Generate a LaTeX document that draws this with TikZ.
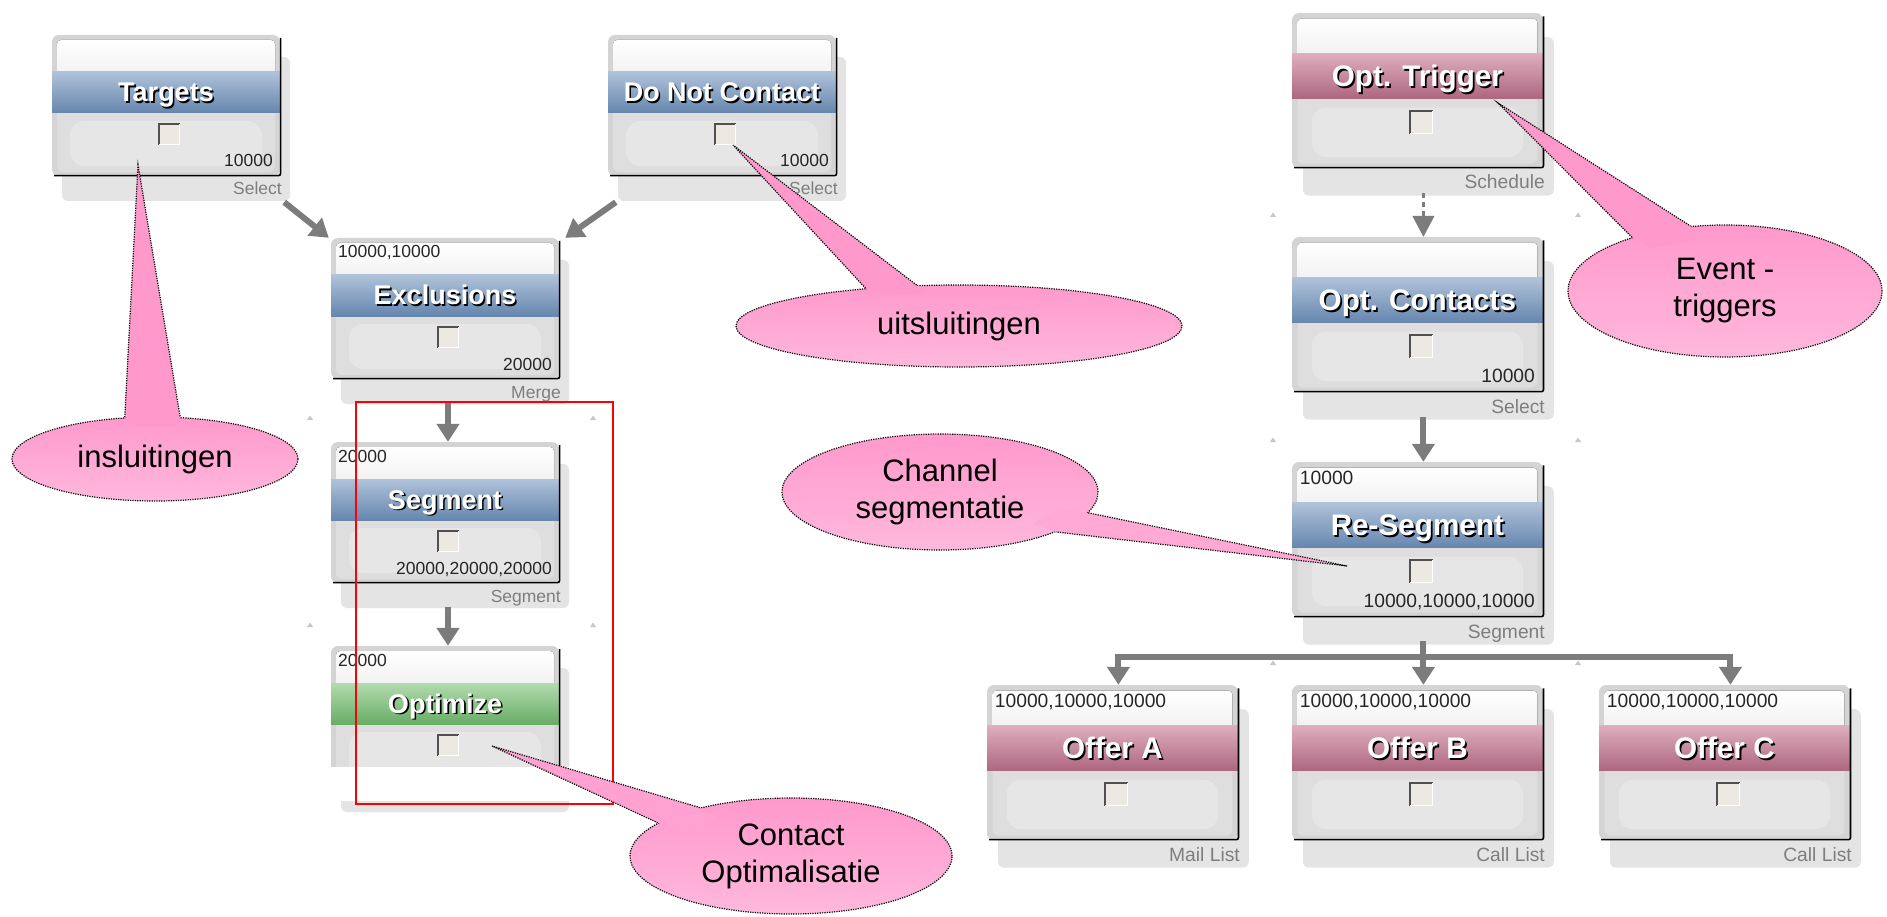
\documentclass[tikz,border=0pt]{standalone}
\usepackage{fontspec}
\setmainfont{Liberation Sans}
\usetikzlibrary{arrows.meta,shapes.geometric,calc}

\definecolor{bandblueT}{HTML}{AFC2DA}
\definecolor{bandblueB}{HTML}{6686AE}
\definecolor{bandpinkT}{HTML}{DDAEBD}
\definecolor{bandpinkB}{HTML}{AE6680}
\definecolor{bandgreenT}{HTML}{B2DBAE}
\definecolor{bandgreenB}{HTML}{68AD66}
\definecolor{frame}{HTML}{D4D4D4}
\definecolor{boxlow}{HTML}{DEDEDE}
\definecolor{boxlowin}{HTML}{E6E6E6}
\definecolor{shadowgrey}{HTML}{E4E4E4}
\definecolor{flowgrey}{HTML}{7C7C7C}
\definecolor{checkfill}{HTML}{ECE9E2}
\definecolor{checkdark}{HTML}{505050}
\definecolor{tagtext}{HTML}{7E7E7E}
\definecolor{pinkA}{HTML}{FF99CC}
\definecolor{pinkB}{HTML}{FFB8DC}

\tikzset{
  x=1pt, y=-1pt,
  boxbody/.style={rectangle, rounded corners=7pt, fill=frame, minimum width=228pt,
    minimum height=141pt, inner sep=0pt},
  titletext/.style={font=\fontsize{27}{30}\selectfont\bfseries, inner sep=0pt, anchor=base},
  counttext/.style={font=\fontsize{17.5}{20}\selectfont, text=black!85, inner sep=0pt},
  typetext/.style={font=\fontsize{17.5}{20}\selectfont, text=tagtext, inner sep=0pt},
  flowline/.style={draw=flowgrey, line width=6pt},
  flowarrow/.style={flowline, -{Triangle[width=22pt,length=18pt]}},
  callout/.style={ellipse, draw=black, line width=1.2pt, dash pattern=on 1.2pt off 1.2pt,
    top color=pinkA, bottom color=pinkB, inner sep=0pt, align=center,
    font=\fontsize{31}{37}\selectfont},
  calloutline/.style={draw=black, line width=1.2pt, dash pattern=on 1.2pt off 1.2pt},
  focusframe/.style={rectangle, draw=red, line width=1.4pt, inner sep=0pt},
}

% process block: #1 name, #2 left, #3 top, #4 scale, #5 band colour, #6 title,
% #7 incoming counts, #8 outgoing counts, #9 process type
\newcommand\flowbox[9]{%
  \begin{scope}[shift={(#2,#3)}, scale=#4, transform shape]
    \fill[shadowgrey, rounded corners=6] (10,22) rectangle (238,166);
    \node[boxbody] (#1) at (114,70.5) {};
    \fill[top color=white, bottom color=black!6, rounded corners=4] (5,5) rectangle (223,44);
    \fill[boxlow, rounded corners=6] (5,70) rectangle (223,137);
    \fill[boxlowin, rounded corners=14] (18,86) rectangle (210,131);
    \shade[top color=band#5T, bottom color=band#5B] (0,37) rectangle (228,78);
    \draw[line width=1.6pt, rounded corners=2] (228.6,3) -- (228.6,140.6) -- (2,140.6);
    \node[titletext, text=black] at (115.6,68.6) {#6};
    \node[titletext, text=white] at (114,67) {#6};
    \fill[checkfill] (106,88) rectangle (128,110);
    \draw[checkdark, line width=2.2pt] (107.1,110) -- (107.1,89.1) -- (128,89.1);
    \draw[white, line width=1pt] (107,109.5) -- (127.5,109.5) -- (127.5,89);
    \node[counttext, anchor=base west] at (7,20) {#7};
    \node[counttext, anchor=base east] at (221,132) {#8};
    \node[typetext, anchor=base east] at (230,160) {#9};
  \end{scope}}

% speech-bubble tail: #1 bubble, #2 tip, #3 #4 border angles, #5 fill colour
\newcommand\calltail[5]{%
  \fill[#5] (#2) -- (#1.#3) -- ($(#1.center)!0.8!(#1.#3)$) --
    ($(#1.center)!0.8!(#1.#4)$) -- (#1.#4) -- cycle;
  \draw[calloutline] (#1.#3) -- (#2) -- (#1.#4);}

\begin{document}
\begin{tikzpicture}
  \fill[white] (0,0) rectangle (1887,917);
  \useasboundingbox (0,0) rectangle (1887,917);

  % grid anchor marks
  \foreach \mx/\my in {310/418, 593/418, 310/625, 593/625,
                       1273/215, 1578/215, 1273/440, 1578/440, 1273/663, 1578/663}
    \fill[black!22] (\mx-3,\my+2) -- (\mx+3,\my+2) -- (\mx,\my-2.5) -- cycle;

  % left flow
  \flowbox{targets}{52}{35}{1}{blue}{Targets}{}{10000}{Select}
  \flowbox{dnc}{608}{35}{1}{blue}{Do Not Contact}{}{10000}{Select}
  \flowbox{exclusions}{331}{238}{1}{blue}{Exclusions}{10000,10000}{20000}{Merge}
  \flowbox{segment}{331}{442}{1}{blue}{Segment}{20000}{20000,20000,20000}{Segment}
  \flowbox{optimize}{331}{646}{1}{green}{Optimize}{20000}{}{}
  \fill[white] (322,767) rectangle (580,801);

  \draw[flowarrow] ([xshift=4pt,yshift=-26pt]targets.south east) -- ([xshift=-2pt]exclusions.north west);
  \draw[flowarrow] ([xshift=8pt,yshift=-26pt]dnc.south west) -- ([xshift=6pt]exclusions.north east);
  \draw[flowarrow] ([xshift=3pt,yshift=-24pt]exclusions.south) -- ([xshift=3pt]segment.north);
  \draw[flowarrow] ([xshift=3pt,yshift=-24pt]segment.south) -- ([xshift=3pt]optimize.north);

  % right flow
  \flowbox{opttrigger}{1292}{13}{1.1}{pink}{Opt. Trigger}{}{}{Schedule}
  \flowbox{optcontacts}{1292}{237}{1.1}{blue}{Opt. Contacts}{}{10000}{Select}
  \flowbox{resegment}{1292}{462}{1.1}{blue}{Re-Segment}{10000}{10000,10000,10000}{Segment}
  \flowbox{offera}{987}{685}{1.1}{pink}{Offer A}{10000,10000,10000}{}{Mail List}
  \flowbox{offerb}{1292}{685}{1.1}{pink}{Offer B}{10000,10000,10000}{}{Call List}
  \flowbox{offerc}{1599}{685}{1.1}{pink}{Offer C}{10000,10000,10000}{}{Call List}

  \draw[flowgrey, line width=3.5pt, dash pattern=on 5pt off 4pt]
    ([xshift=6pt,yshift=-25pt]opttrigger.south) -- ([xshift=6pt,yshift=20pt]optcontacts.north);
  \draw[flowgrey, line width=1pt, -{Triangle[width=22pt,length=21pt]}]
    ([xshift=6pt,yshift=22pt]optcontacts.north) -- ([xshift=6pt]optcontacts.north);
  \draw[flowarrow] ([xshift=6pt,yshift=-25pt]optcontacts.south) -- ([xshift=6pt]resegment.north);

  \coordinate (fork) at ([xshift=6pt,yshift=-40pt]resegment.south);
  \draw[flowline] ([xshift=6pt,yshift=-24pt]resegment.south) -- (fork);
  \draw[flowarrow] (fork) -| ([xshift=6pt]offera.north);
  \draw[flowarrow] (fork) -- ([xshift=6pt]offerb.north);
  \draw[flowarrow] (fork) -| ([xshift=6pt]offerc.north);

  % highlighted optimisation step
  \node[focusframe, minimum width=257pt, minimum height=402pt] (focus) at (484.5,603) {};

  % remarks
  \node[callout, minimum width=286pt, minimum height=84pt] (incl) at (155,459) {insluitingen};
  \coordinate (incltip) at (138,165);
  \calltail{incl}{incltip}{126}{59}{pinkA}

  \node[callout, minimum width=446pt, minimum height=82pt] (excl) at (959,326) {uitsluitingen};
  \coordinate (excltip) at (733,145);
  \calltail{excl}{excltip}{158}{136}{pinkA}

  \node[callout, minimum width=314pt, minimum height=132pt] (event) at (1725,291) {Event -\\triggers};
  \coordinate (eventtip) at (1498,103);
  \calltail{event}{eventtip}{150}{118}{pinkA}

  \node[callout, minimum width=316pt, minimum height=116pt] (channel) at (940,492) {Channel\\segmentatie};
  \coordinate (channeltip) at (1347,566);
  \calltail{channel}{channeltip}{352}{341}{pinkA!50!pinkB}

  \node[callout, minimum width=322pt, minimum height=116pt] (contact) at (791,856) {Contact\\Optimalisatie};
  \coordinate (contacttip) at (492,746);
  \calltail{contact}{contacttip}{152}{166}{pinkA!70!pinkB}
\end{tikzpicture}
\end{document}
